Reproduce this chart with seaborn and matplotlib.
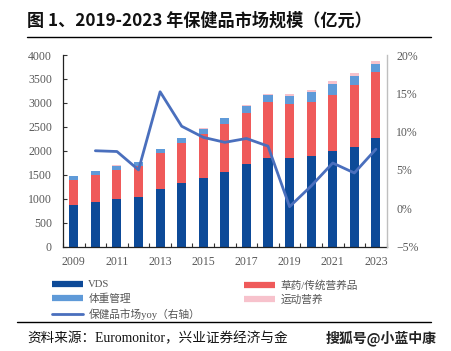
import numpy as np
import pandas as pd
import matplotlib
matplotlib.use("Agg")
import matplotlib.pyplot as plt
from matplotlib.lines import Line2D
import seaborn as sns

years = [str(y) for y in range(2009, 2024)]
vds = [875, 930, 990, 1040, 1200, 1326, 1431, 1556, 1715, 1855, 1846, 1888, 1986, 2069, 2257]
herbal = [521, 571, 616, 640, 745, 845, 921, 996, 1070, 1160, 1138, 1131, 1179, 1298, 1397]
weight = [70, 69, 84, 86, 93, 90, 112, 122, 145, 143, 153, 202, 223, 203, 167]
sports = [2, 3, 3, 4, 5, 6, 8, 10, 20, 35, 42, 49, 63, 48, 57]
yoy = [np.nan, 7.5, 7.4, 5.0, 15.2, 10.7, 9.25, 8.6, 9.1, 8.1, 0.2, 2.9, 5.9, 4.6, 7.7]

left_ticks = [0, 500, 1000, 1500, 2000, 2500, 3000, 3500, 4000]
right_ticks = [-5, 0, 5, 10, 15, 20]
xlabels_shown = ["2009", "2011", "2013", "2015", "2017", "2019", "2021", "2023"]

labels = ["VDS", "草药/传统营养品", "体重管理", "运动营养", "保健品市场yoy（右轴）"]
c_vds = "#0d4a98"
c_herb = "#ef5a5a"
c_weight = "#5f9ad8"
c_sport = "#f7c2cc"
c_line = "#4a6fbd"

sns.set_theme(style="white")
plt.rcParams["font.family"] = ["Liberation Serif", "Noto Sans CJK SC", "DejaVu Sans"]

df = pd.DataFrame({"year": years, "vds": vds, "herbal": herbal, "weight": weight, "sports": sports})
df["c1"] = df["vds"]
df["c2"] = df["c1"] + df["herbal"]
df["c3"] = df["c2"] + df["weight"]
df["c4"] = df["c3"] + df["sports"]

fig = plt.figure(figsize=(4.51, 3.51), dpi=100)
ax = fig.add_axes([63 / 451, 1 - 246.5 / 351, (386.7 - 63) / 451, (246.5 - 55) / 351])

for col, c in [("c4", c_sport), ("c3", c_weight), ("c2", c_herb), ("c1", c_vds)]:
    sns.barplot(data=df, x="year", y=col, color=c, width=0.42, saturation=1,
                errorbar=None, ax=ax, linewidth=0)

ax.set_xlim(-0.5, 14.5)
ax.set_ylim(0, 4000)
ax.set_yticks(left_ticks)
ax.set_yticklabels([str(t) for t in left_ticks])
ax.set_xticks([i for i in range(0, 15, 2)])
ax.set_xticklabels(xlabels_shown)
ax.set_xticks([i - 0.5 for i in range(0, 16)], minor=True)
ax.set_xlabel("")
ax.set_ylabel("")
ax.tick_params(axis="x", which="major", length=0, pad=7, labelsize=8.5, labelcolor="#595959")
ax.tick_params(axis="x", which="minor", direction="in", length=3, width=0.8, color="#333333", bottom=True)
ax.tick_params(axis="y", direction="in", length=3, width=0.8, left=True, pad=8, labelsize=8.5,
               labelcolor="#595959", color="#333333")
for s in ["top", "right"]:
    ax.spines[s].set_visible(False)
ax.spines["left"].set_color("#222222")
ax.spines["bottom"].set_color("#222222")
ax.spines["left"].set_linewidth(0.9)
ax.spines["bottom"].set_linewidth(0.9)

ax2 = ax.twinx()
sns.lineplot(x=np.arange(15), y=yoy, ax=ax2, color=c_line, linewidth=2)
ax2.set_ylim(-5, 20)
ax2.set_yticks(right_ticks)
ax2.set_yticklabels([("−5%" if t < 0 else f"{t}%") for t in right_ticks])
ax2.tick_params(axis="y", length=0, pad=7, labelsize=8.5, labelcolor="#595959")
for s in ["top", "left", "bottom"]:
    ax2.spines[s].set_visible(False)
ax2.spines["right"].set_color("#bfbfbf")
ax2.spines["right"].set_linewidth(1.0)
ax2.set_xlim(-0.5, 14.5)

# Title
fig.text(27 / 451, 1 - 21 / 351, "图 1、2019-2023 年保健品市场规模（亿元）", fontsize=12.3,
         fontweight="bold", va="center", ha="left",
         family=["Noto Sans CJK SC", "DejaVu Sans"], color="#111111")
fig.add_artist(Line2D([27 / 451, 431 / 451], [1 - 37.3 / 351] * 2, color="black", lw=1.0))

# Legends
h_vds = Line2D([], [], color=c_vds, lw=4.5, solid_capstyle="butt")
h_herb = Line2D([], [], color=c_herb, lw=4.5, solid_capstyle="butt")
h_weight = Line2D([], [], color=c_weight, lw=4.5, solid_capstyle="butt")
h_sport = Line2D([], [], color=c_sport, lw=4.5, solid_capstyle="butt")
h_line = Line2D([], [], color=c_line, lw=2)
legkw = dict(frameon=False, handlelength=2.9, handletextpad=0.5,
             labelspacing=0.38, borderpad=0, borderaxespad=0, labelcolor="#555555",
             prop={"family": ["Liberation Serif", "Noto Sans CJK SC"], "size": 7.7})
l1 = fig.legend([h_vds, h_weight, h_line], [labels[0], labels[2], labels[4]],
                loc="upper left", bbox_to_anchor=(52 / 451, 1 - 280 / 351), **legkw)
l2 = fig.legend([h_herb, h_sport], [labels[1], labels[3]],
                loc="upper left", bbox_to_anchor=(244 / 451, 1 - 280 / 351), **legkw)

fig.add_artist(Line2D([17 / 451, 431 / 451], [1 - 322 / 351] * 2, color="black", lw=1.0))
fig.text(27 / 451, 1 - 339 / 351, "资料来源：Euromonitor，兴业证券经济与金", fontsize=9.8,
         va="center", ha="left", family=["Liberation Serif", "Noto Sans CJK SC"], color="#111111")
fig.text(437 / 451, 1 - 338 / 351, "搜狐号@小蓝中康", fontsize=10, fontweight="bold",
         va="center", ha="right", family=["Noto Sans CJK SC", "DejaVu Sans"], color="#222222")

fig.savefig("out.png", dpi=100)
